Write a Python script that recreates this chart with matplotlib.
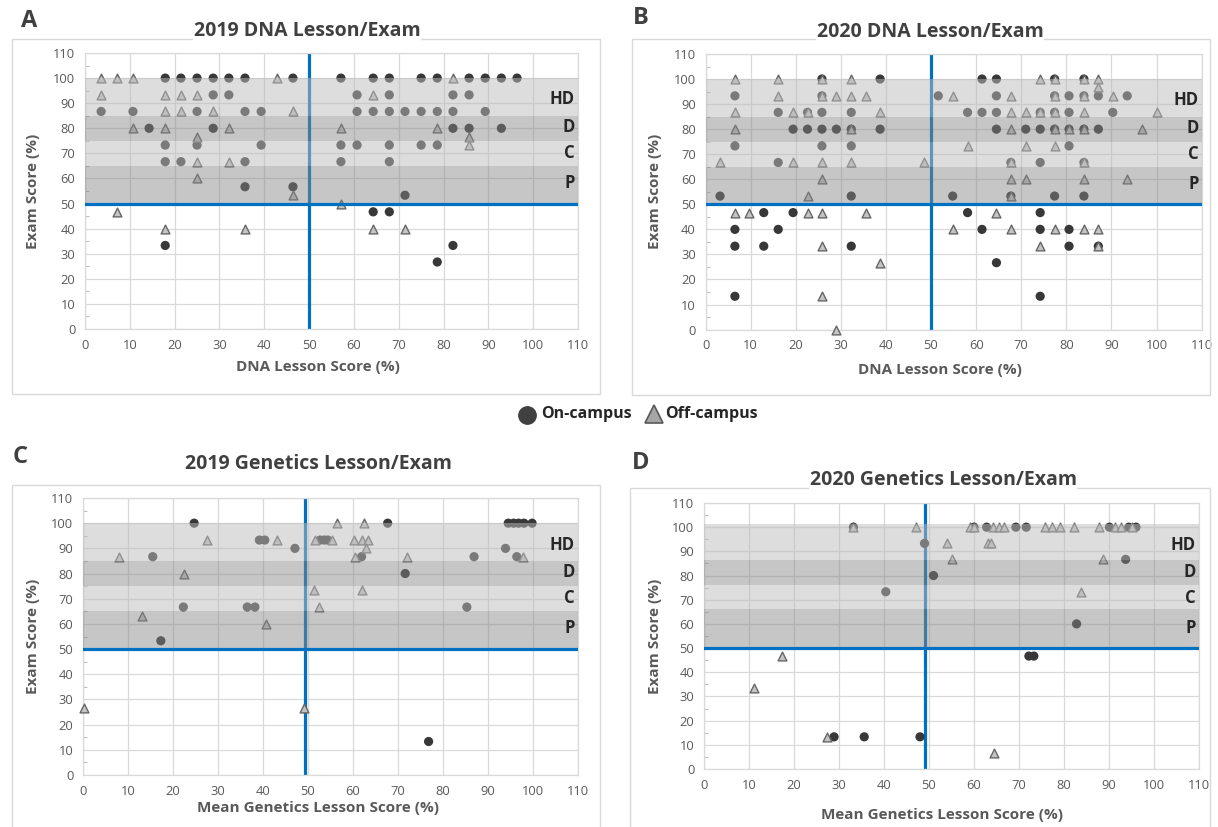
import matplotlib
matplotlib.use('Agg')
import matplotlib.pyplot as plt
from matplotlib.patches import Rectangle
from matplotlib.lines import Line2D

plt.rcParams['font.family'] = ['Open Sans', 'DejaVu Sans']

# ---------------- DATA ----------------
# Panel A: 2019 DNA Lesson/Exam
A_on_x = [17.9, 21.4, 25.0, 28.6, 32.1, 35.7, 46.4, 57.1, 64.3, 67.9, 75.0, 78.6, 85.7, 89.3, 92.9, 96.4,
          28.6, 32.1, 60.7, 67.9, 82.1, 85.7,
          3.6, 10.7, 25.0, 35.7, 39.3, 60.7, 64.3, 67.9, 71.4, 75.0, 78.6, 82.1, 89.3,
          14.3, 28.6, 82.1, 85.7, 92.9,
          17.9, 25.0, 39.3, 57.1, 60.7, 67.9, 75.0, 78.6,
          17.9, 21.4, 35.7, 57.1, 67.9,
          35.7, 46.4, 71.4, 64.3, 67.9, 17.9, 82.1, 78.6]
A_on_y = [100]*16 + [93.3]*6 + [86.7]*13 + [80]*5 + [73.3]*8 + [66.7]*5 + \
         [56.7, 56.7, 53.3, 46.7, 46.7, 33.3, 33.3, 26.7]
A_off_x = [3.6, 7.1, 10.7, 42.9, 82.1,
           3.6, 17.9, 21.4, 25.0, 64.3,
           17.9, 21.4, 28.6, 46.4,
           10.7, 17.9, 32.1, 57.1, 78.6,
           25.0, 85.7, 85.7, 25.0, 32.1, 25.0, 46.4, 57.1, 7.1,
           17.9, 35.7, 64.3, 71.4]
A_off_y = [100]*5 + [93.3]*5 + [86.7]*4 + [80]*5 + \
          [76.7, 76.7, 73.3, 66.7, 66.7, 60, 53.3, 50, 46.7] + [40]*4

# Panel B: 2020 DNA Lesson/Exam
B_on_x = [25.8, 38.7, 61.3, 64.5, 77.4, 83.9,
          6.5, 25.8, 51.6, 64.5, 77.4, 80.6, 83.9, 87.1, 93.5,
          16.1, 22.6, 25.8, 32.3, 58.1, 61.3, 64.5, 74.2, 77.4, 80.6, 90.3,
          19.4, 22.6, 25.8, 29.0, 32.3, 38.7, 64.5, 71.0, 74.2, 77.4, 80.6, 83.9, 87.1,
          6.5, 25.8, 32.3, 80.6,
          16.1, 67.7, 74.2, 83.9,
          3.2, 32.3, 54.8, 67.7, 77.4, 83.9,
          12.9, 19.4, 58.1, 74.2,
          6.5, 16.1, 61.3, 74.2, 80.6,
          6.5, 12.9, 32.3, 80.6, 87.1,
          64.5, 6.5, 74.2]
B_on_y = [100]*6 + [93.3]*9 + [86.7]*11 + [80]*13 + [73.3]*4 + [66.7]*4 + [53.3]*6 + \
         [46.7]*4 + [40]*5 + [33.3]*5 + [26.7, 13.3, 13.3]
B_off_x = [6.5, 16.1, 25.8, 32.3, 74.2, 77.4, 83.9, 87.1,
           87.1,
           16.1, 25.8, 29.0, 32.3, 35.5, 54.8, 67.7, 77.4, 83.9, 90.3,
           6.5, 19.4, 22.6, 38.7, 67.7, 71.0, 74.2, 77.4, 83.9, 100.0,
           6.5, 32.3, 67.7, 77.4, 80.6, 83.9, 96.8,
           58.1, 71.0, 77.4,
           3.2, 19.4, 25.8, 32.3, 48.4, 67.7, 83.9,
           25.8, 67.7, 71.0, 83.9, 93.5,
           22.6, 67.7,
           6.5, 9.7, 22.6, 25.8, 35.5, 64.5,
           54.8, 67.7, 77.4, 83.9, 87.1,
           25.8, 74.2, 87.1,
           38.7, 25.8, 29.0]
B_off_y = [100]*8 + [96.7] + [93.3]*10 + [86.7]*10 + [80]*7 + [73.3]*3 + [66.7]*7 + \
          [60]*5 + [53.3]*2 + [46.7]*6 + [40]*5 + [33.3]*3 + [26.7, 13.3, 0]

# Panel C: 2019 Genetics Lesson/Exam
C_on_x = [24.7, 67.7, 94.5, 95.7, 96.8, 98.0, 99.8,
          39.2, 40.4, 52.7, 53.6, 54.4,
          47.1, 93.9,
          15.5, 61.9, 86.9, 96.4,
          71.6,
          22.3, 36.5, 38.2, 85.3,
          17.3, 76.8]
C_on_y = [100]*7 + [93.3]*5 + [90]*2 + [86.7]*4 + [80] + [66.7]*4 + [53.3, 13.3]
C_off_x = [56.4, 62.5,
           27.6, 43.2, 51.5, 55.3, 60.3, 61.9, 63.3,
           62.8,
           7.9, 60.4, 72.1, 97.8,
           22.4, 51.3, 62.1, 52.4, 13.0, 40.7, 0.3, 49.1]
C_off_y = [100]*2 + [93.3]*7 + [90] + [86.7]*4 + [80, 73.3, 73.3, 66.7, 63.3, 60, 26.7, 26.7]

# Panel D: 2020 Genetics Lesson/Exam
D_on_x = [33.2, 60.0, 62.8, 69.3, 71.6, 90.1, 94.4, 96.0,
          49.0, 51.0, 93.7, 40.4, 82.8, 72.2, 73.3, 28.9, 35.6, 48.0]
D_on_y = [100]*8 + [93.3, 80, 86.7, 73.3, 60, 46.7, 46.7, 13.3, 13.3, 13.3]
D_off_x = [33.2, 47.1, 59.0, 60.0, 64.3, 65.6, 66.7, 75.8, 77.4, 79.1, 82.3, 87.8, 91.3, 92.7, 95.2,
           53.9, 63.0, 63.8,
           55.2, 88.6,
           83.8, 17.4, 11.1, 27.4, 64.5]
D_off_y = [100]*15 + [93.3]*3 + [86.7]*2 + [73.3, 46.7, 33.3, 13.3, 6.7]

ticks = [0, 10, 20, 30, 40, 50, 60, 70, 80, 90, 100, 110]
band_names = ['P', 'C', 'D', 'HD']
bands_std = [50, 65, 75, 85, 100]
bands_D = [50, 66, 76, 86.5, 101.5]

# ---------------- LAYOUT ----------------
W, H = 1218, 827
fig = plt.figure(figsize=(W / 100, H / 100), dpi=100)


def fx(px):
    return px / W


def fy(py):
    return 1 - py / H


BLUE = '#0070c0'
GRID = '#d9d9d9'
TXT = '#595959'
TITLE = '#404040'
band_cols = ['#868686', '#bcbcbc', '#868686', '#bcbcbc']
band_alpha = [0.47, 0.5, 0.47, 0.5]

panels = [
    dict(letter='A', title='2019 DNA Lesson/Exam', xlabel='DNA Lesson Score (%)',
         box=(85, 578, 53, 329), frame=(12, 39, 600, 394),
         letter_xy=(29, 21), title_xy=(307, 31), xl_xy=(318, 367), yl_xy=(33, 191),
         vline=50, bands=bands_std, lab_y=[58.3, 70.2, 80.6, 91.5],
         on=(A_on_x, A_on_y), off=(A_off_x, A_off_y)),
    dict(letter='B', title='2020 DNA Lesson/Exam', xlabel='DNA Lesson Score (%)',
         box=(705.6, 1201.6, 54, 329.6), frame=(632, 39, 1210, 395),
         letter_xy=(641, 18), title_xy=(930, 32), xl_xy=(940, 370), yl_xy=(655, 191),
         vline=50, bands=bands_std, lab_y=[58.3, 70.2, 80.6, 91.5],
         on=(B_on_x, B_on_y), off=(B_off_x, B_off_y)),
    dict(letter='C', title='2019 Genetics Lesson/Exam', xlabel='Mean Genetics Lesson Score (%)',
         box=(83, 578, 498, 775), frame=(12, 485, 600, 840),
         letter_xy=(20, 457), title_xy=(318, 464), xl_xy=(318, 808), yl_xy=(33, 636),
         vline=49.4, bands=bands_std, lab_y=[58.3, 70.2, 80.6, 91.5],
         on=(C_on_x, C_on_y), off=(C_off_x, C_off_y)),
    dict(letter='D', title='2020 Genetics Lesson/Exam', xlabel='Mean Genetics Lesson Score (%)',
         box=(704, 1199, 503, 769), frame=(630, 488, 1210, 840),
         letter_xy=(641, 463), title_xy=(943, 480), xl_xy=(942, 815), yl_xy=(655, 636),
         vline=49.1, bands=bands_D, lab_y=[58.3, 70.7, 81.4, 92.6],
         on=(D_on_x, D_on_y), off=(D_off_x, D_off_y)),
]

for p in panels:
    x0, x1, yt, yb = p['box']
    ax = fig.add_axes([fx(x0), fy(yb), (x1 - x0) / W, (yb - yt) / H])
    ax.set_xlim(0, 110)
    ax.set_ylim(0, 110)
    ax.set_xticks(ticks)
    ax.set_yticks(ticks)
    ax.set_yticks([t + 5 for t in ticks[:-1]], minor=True)
    ax.tick_params(which='major', length=0, labelsize=9.3, labelcolor=TXT, pad=7)
    ax.tick_params(axis='y', which='minor', direction='in', length=3, color='#bfbfbf', width=0.8)
    ax.grid(True, color=GRID, lw=0.9, zorder=0)
    ax.set_axisbelow(True)
    for s in ax.spines.values():
        s.set_color(GRID)
        s.set_linewidth(0.9)

    # data markers
    ax.scatter(p['on'][0], p['on'][1], s=44, marker='o', color='#383838',
               edgecolors='none', zorder=3, clip_on=False)
    ax.scatter(p['off'][0], p['off'][1], s=40, marker='^', facecolor='#c4c4c4',
               edgecolors='#666666', linewidths=1.0, zorder=3, clip_on=False)

    # threshold lines
    ax.axvline(p['vline'], color=BLUE, lw=2.3, zorder=2)
    ax.axhline(50, color=BLUE, lw=2.3, zorder=6)

    # grade bands (semi-transparent overlay)
    b = p['bands']
    for i in range(4):
        ax.axhspan(b[i], b[i + 1], color=band_cols[i], alpha=band_alpha[i], lw=0, zorder=5)
        ax.text(109.3, p['lab_y'][i], band_names[i], ha='right', va='center',
                fontsize=12, fontweight='bold', color='#262626', zorder=7)

    # frame
    fr = p['frame']
    fig.add_artist(Rectangle((fx(fr[0]), fy(fr[3])), (fr[2] - fr[0]) / W, (fr[3] - fr[1]) / H,
                             transform=fig.transFigure, fill=False, edgecolor=GRID, lw=1.0,
                             clip_on=False))
    fig.text(fx(p['letter_xy'][0]), fy(p['letter_xy'][1]), p['letter'], ha='center',
             va='center', fontsize=17, fontweight='bold', color=TITLE)
    fig.text(fx(p['title_xy'][0]), fy(p['title_xy'][1]), p['title'], ha='center',
             va='center', fontsize=14, fontweight='bold', color=TITLE,
             bbox=dict(facecolor='white', edgecolor='none', pad=0.5))
    fig.text(fx(p['xl_xy'][0]), fy(p['xl_xy'][1]), p['xlabel'], ha='center',
             va='center', fontsize=11, fontweight='bold', color=TXT)
    fig.text(fx(p['yl_xy'][0]), fy(p['yl_xy'][1]), 'Exam Score (%)', ha='center',
             va='center', rotation=90, fontsize=11, fontweight='bold', color=TXT)

# legend
fig.add_artist(Line2D([fx(527)], [fy(415)], marker='o', ms=12.5, color='#404040',
                      mec='#404040', ls='none', transform=fig.transFigure))
fig.text(fx(541), fy(414), 'On-campus', ha='left', va='center', fontsize=11.5,
         fontweight='bold', color='#262626')
fig.add_artist(Line2D([fx(654)], [fy(414)], marker='^', ms=13, mfc='#a6a6a6',
                      mec='#595959', mew=1.2, ls='none', transform=fig.transFigure))
fig.text(fx(665), fy(414), 'Off-campus', ha='left', va='center', fontsize=11.5,
         fontweight='bold', color='#262626')

fig.savefig('out.png', dpi=100, facecolor='white')
